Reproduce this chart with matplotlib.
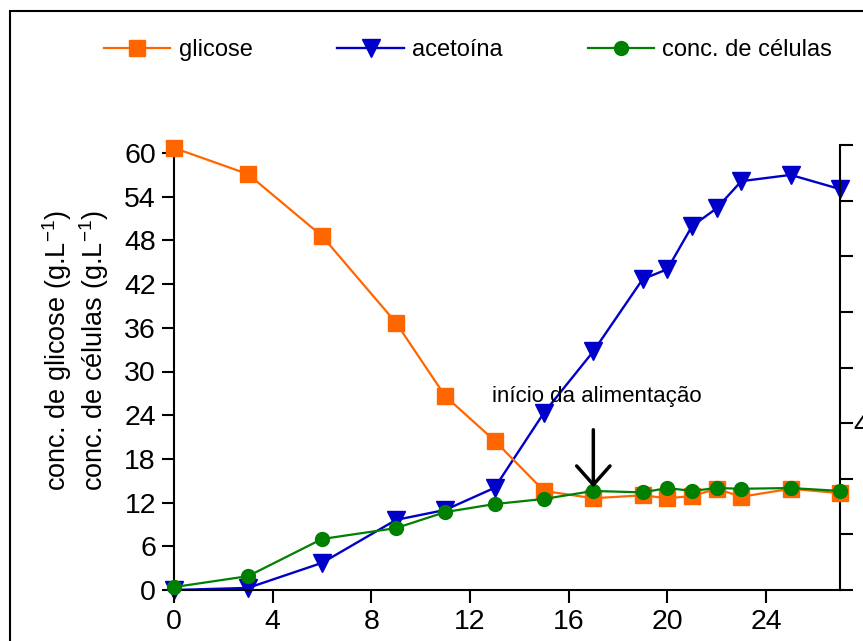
import matplotlib
matplotlib.use('Agg')
import matplotlib.pyplot as plt
import numpy as np
from matplotlib.patches import Rectangle

plt.rcParams['font.family'] = ['Liberation Sans', 'DejaVu Sans']
plt.rcParams['mathtext.fontset'] = 'custom'
plt.rcParams['mathtext.rm'] = 'Liberation Sans'

# tempo (h)
tempo = [0, 3, 6, 9, 11, 13, 15, 17, 19, 20, 21, 22, 23, 25, 27]
# g/L, eixo esquerdo
glicose = [60.7, 57.1, 48.6, 36.7, 26.6, 20.5, 13.6, 12.6, 13.0, 12.6, 12.9, 13.9, 12.8, 13.9, 13.3]
celulas = [0.4, 1.9, 7.0, 8.5, 10.7, 11.8, 12.5, 13.6, 13.4, 14.0, 13.6, 14.0, 13.9, 14.0, 13.6]
# eixo direito
acetoina = [0.0, 0.05, 0.65, 1.68, 1.92, 2.45, 4.25, 5.72, 7.45, 7.69, 8.72, 9.15, 9.80, 9.95, 9.61]

x_ticks = [0, 4, 8, 12, 16, 20, 24]
y_ticks = [0, 6, 12, 18, 24, 30, 36, 42, 48, 54, 60]
r_ticks = np.arange(9) * 4 / 3
r_labels = ['', '', '', '4', '', '', '', '', '']

laranja = '#FF6600'
azul = '#0000C8'
verde = '#008000'

fig = plt.figure(figsize=(8.63, 6.41), dpi=100)
ax = fig.add_axes([174 / 863, 1 - 590 / 641, 666 / 863, 445 / 641])
ax2 = ax.twinx()
ax.set_zorder(ax2.get_zorder() + 1)
ax.patch.set_visible(False)

l1, = ax.plot(tempo, glicose, color=laranja, marker='s', ms=11, lw=1.6,
              label='glicose', clip_on=False, zorder=3)
l2, = ax2.plot(tempo, acetoina, color=azul, marker='v', ms=12.5, lw=1.7,
               label='acetoína', clip_on=False)
l3, = ax.plot(tempo, celulas, color=verde, marker='o', ms=10, lw=1.6,
              label='conc. de células', clip_on=False, zorder=4)

ax.set_xlim(0, 27)
ax.set_ylim(0, 60 * 445 / 437)
ax2.set_ylim(0, 8 * 4 / 3)

ax.set_xticks(x_ticks)
ax.set_yticks(y_ticks)
ax2.set_yticks(r_ticks)
ax2.set_yticklabels(r_labels)

for a in (ax, ax2):
    for s in a.spines.values():
        s.set_linewidth(1.5)
    a.spines['top'].set_visible(False)
ax.spines['right'].set_visible(False)
ax2.spines['left'].set_visible(False)
ax2.spines['bottom'].set_visible(False)

ax.tick_params(axis='both', direction='out', length=9, width=1.5, labelsize=20.5, pad=4)
ax.tick_params(axis='x', length=9.4, pad=4)
ax2.tick_params(axis='y', direction='out', length=9.4, width=1.5, labelsize=20.5, pad=0)

fig.text(75.5 / 863, 1 - 351 / 641,
         'conc. de glicose (g.L$\\mathregular{^{-1}}$)\nconc. de células (g.L$\\mathregular{^{-1}}$)',
         rotation=90, ha='center', va='center', fontsize=19.5, linespacing=1.1,
         multialignment='center')

# início da alimentação
ax.annotate('', xy=(17, 14.1), xytext=(17, 22.0),
            arrowprops=dict(arrowstyle='->, head_length=0.9, head_width=0.8',
                            color='black', lw=2.5, mutation_scale=15,
                            shrinkA=0, shrinkB=0), zorder=6)
ax.text(17.14, 25.8, 'início da alimentação', ha='center', va='baseline', fontsize=16)

fig.legend(handles=[l1, l2, l3], loc='center left',
           bbox_to_anchor=(104 / 863, 1 - 50 / 641), ncol=3, frameon=False,
           fontsize=17, handlelength=2.8, handletextpad=0.36, columnspacing=3.6,
           borderpad=0, borderaxespad=0)

fig.patches.append(Rectangle((10 / 863, -0.5), 2, 1.5 - 11 / 641, fill=False,
                             edgecolor='black', lw=1.5, transform=fig.transFigure))

fig.savefig('out.png', dpi=100)
plt.close()
